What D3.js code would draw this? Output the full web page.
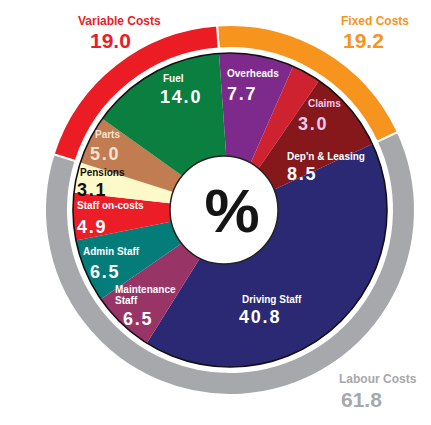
<!DOCTYPE html>
<html>
<head>
<meta charset="utf-8">
<script src="https://cdn.jsdelivr.net/npm/d3@7"></script>
<style>
  html, body { margin: 0; padding: 0; background: #fff; }
  svg { display: block; }
  text { font-family: "Liberation Sans", Arial, sans-serif; font-weight: 700; }
</style>
</head>
<body>
<svg id="chart" width="431" height="425"></svg>
<script>
// ---- data ----
const innerCats = ["Overheads", "Claims", "Dep'n & Leasing", "Driving Staff", "Maintenance Staff", "Admin Staff", "Staff on-costs", "Pensions", "Parts", "Fuel"];
const innerVals = [7.7, 3.0, 8.5, 40.8, 6.5, 6.5, 4.9, 3.1, 5.0, 14.0];
const groupCats = ["Fixed Costs", "Labour Costs", "Variable Costs"];
const groupVals = [19.2, 61.8, 19.0];
const centerLabel = "%";

// ---- styles / layout ----
const innerColors = ["#7d2a8c", "#cf2230", "#86171b", "#2b2874", "#993467", "#047d7a", "#ec1d27", "#fdf9c9", "#c27c52", "#0b7f3f"];
const innerTextColors = ["#fff", "#f2c9ee", "#fff", "#fff", "#fff", "#fff", "#fff", "#111", "#f7e2cf", "#fff"];
const groupColors = ["#f7941e", "#a6a8ab", "#ec1c24"];
// label anchor points (start-anchored): [nameX, nameBaseline, valueX, valueBaseline]
const innerLabelPos = [
  [227, 77, 227, 100],
  [308, 107, 298, 130],
  [287, 160, 287, 180],
  [242, 303, 239, 323],
  [115, 293, 123, 325],
  [83, 255, 90, 278],
  [77, 209, 77, 233],
  [80, 176, 77, 196],
  [95, 138, 90, 160],
  [163, 82, 160, 103]
];
const groupLabelPos = [
  [341, 25, 343, 48],
  [339, 383, 341, 407],
  [78, 25, 90, 48]
];

const cx = 230, cy = 210;
const rPie = 157, rRingIn = 162, rRingOut = 185;
const startA = -0.07;

const svg = d3.select("#chart");
const g = svg.append("g").attr("transform", `translate(${cx},${cy})`);
const fmt = d3.format(".1f");

// outer ring
const groupPie = d3.pie().sort(null).value(d => d).startAngle(startA).endAngle(startA + 2 * Math.PI);
const ringArc = d3.arc().innerRadius(rRingIn).outerRadius(rRingOut);
g.selectAll("path.ring")
  .data(groupPie(groupVals))
  .join("path")
  .attr("class", "ring")
  .attr("d", ringArc)
  .attr("fill", (d, i) => groupColors[i])
  .attr("stroke", "#fff")
  .attr("stroke-width", 2);

// inner pie
const innerPie = d3.pie().sort(null).value(d => d).startAngle(startA).endAngle(startA + 2 * Math.PI);
const pieArc = d3.arc().innerRadius(0).outerRadius(rPie);
g.selectAll("path.slice")
  .data(innerPie(innerVals))
  .join("path")
  .attr("class", "slice")
  .attr("d", pieArc)
  .attr("fill", (d, i) => innerColors[i]);

g.append("circle").attr("r", rPie).attr("fill", "none").attr("stroke", "#111").attr("stroke-width", 1.6);

// center circle
svg.append("circle").attr("cx", cx - 6).attr("cy", cy).attr("r", 54)
  .attr("fill", "#fff").attr("stroke", "#222").attr("stroke-width", 1.5);
svg.append("text").attr("x", cx + 2).attr("y", cy + 22)
  .attr("text-anchor", "middle").attr("font-size", 62).attr("fill", "#151515")
  .text(centerLabel);

// inner labels
innerCats.forEach((name, i) => {
  const p = innerLabelPos[i];
  const lines = name === "Maintenance Staff" ? ["Maintenance", "Staff"] : [name];
  const t = svg.append("text").attr("font-size", 10).attr("fill", innerTextColors[i]);
  lines.forEach((ln, j) => {
    t.append("tspan").attr("x", p[0]).attr("y", p[1] + j * 11).text(ln);
  });
  svg.append("text").attr("x", p[2]).attr("y", p[3])
    .attr("font-size", 18).attr("letter-spacing", 1.8).attr("fill", innerTextColors[i])
    .text(fmt(innerVals[i]));
});

// group labels
groupCats.forEach((name, i) => {
  const p = groupLabelPos[i];
  svg.append("text").attr("x", p[0]).attr("y", p[1]).attr("font-size", 12)
    .attr("fill", groupColors[i]).text(name);
  svg.append("text").attr("x", p[2]).attr("y", p[3]).attr("font-size", 21)
    .attr("fill", groupColors[i]).text(fmt(groupVals[i]));
});
</script>
</body>
</html>
